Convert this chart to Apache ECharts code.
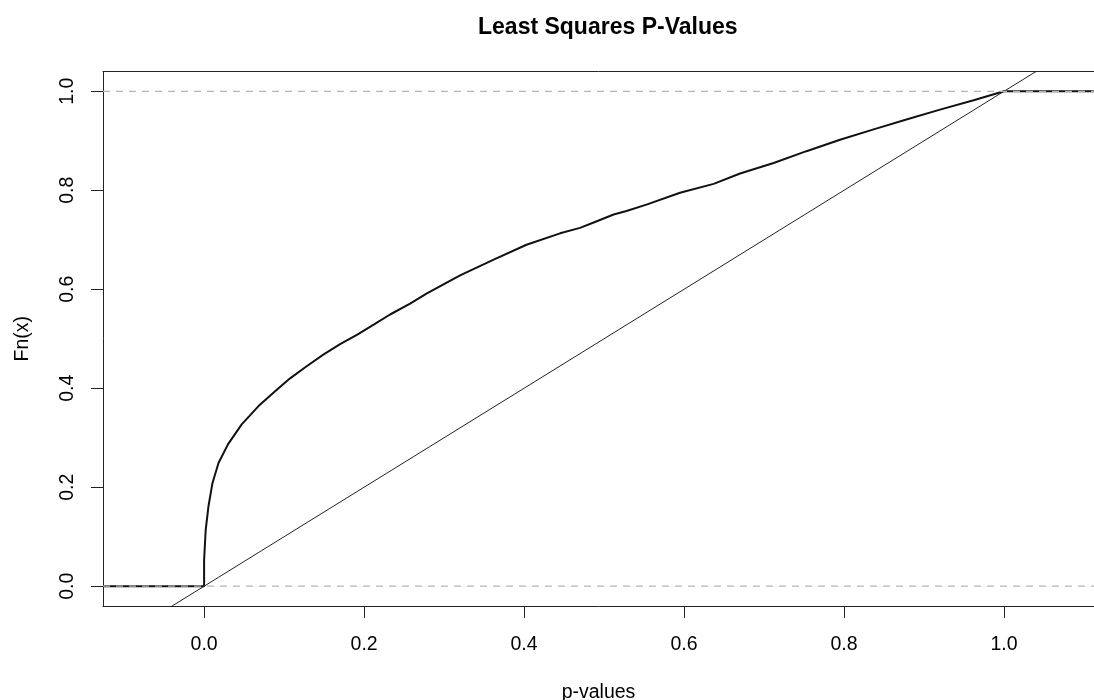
<!DOCTYPE html>
<html>
<head>
<meta charset="utf-8">
<title>Least Squares P-Values</title>
<script src="https://cdn.jsdelivr.net/npm/echarts@6/dist/echarts.min.js"></script>
<style>
  html, body { margin: 0; padding: 0; background: #fff; }
  #chart { width: 1094px; height: 700px; }
</style>
</head>
<body>
<div id="chart"></div>
<script>
// Empirical CDF of the least-squares p-values (knots along the curve)
const pValues = [
  0.000, 0.000, 0.002, 0.0054, 0.0104, 0.018, 0.030, 0.047, 0.068, 0.093,
  0.1075, 0.126, 0.149, 0.170, 0.191, 0.2125, 0.2325, 0.2575, 0.278, 0.320,
  0.362, 0.403, 0.445, 0.470, 0.487, 0.512, 0.528, 0.553, 0.595, 0.637,
  0.670, 0.712, 0.753, 0.795, 0.837, 0.878, 0.920, 0.962, 1.000
];
const fnValues = [
  0.000, 0.053, 0.114, 0.161, 0.208, 0.249, 0.287, 0.327, 0.364, 0.400,
  0.420, 0.442, 0.468, 0.489, 0.508, 0.529, 0.549, 0.571, 0.591, 0.628,
  0.660, 0.690, 0.713, 0.724, 0.735, 0.751, 0.758, 0.771, 0.795, 0.813,
  0.834, 0.855, 0.879, 0.902, 0.923, 0.943, 0.963, 0.982, 1.000
];

// Axis ticks and labels
const xTicks = [0.0, 0.2, 0.4, 0.6, 0.8, 1.0];
const yTicks = [0.0, 0.2, 0.4, 0.6, 0.8, 1.0];

// Horizontal reference levels (dashed) and the uniform reference line y = x
const refLevels = [0, 1];
const refLineIntercept = 0;
const refLineSlope = 1;

// Plot limits
const xLimits = [-0.1264, 1.1125];
const yLimits = [-0.04, 1.04];

const FONT = '"Liberation Sans", Arial, Helvetica, sans-serif';
const INK = '#222';

// ECDF as a line: flat tail left of the first knot, the curve, flat tail right of the last
const ecdfData = [[xLimits[0], 0]]
  .concat(pValues.map((p, i) => [p, fnValues[i]]))
  .concat([[xLimits[1], 1]]);

const diagData = [xLimits[0], xLimits[1] + 0.1].map(x => [x, refLineIntercept + refLineSlope * x]);

const refSeries = refLevels.map(level => ({
  type: 'line',
  data: xLimits.map(x => [x, level]),
  showSymbol: false,
  silent: true,
  z: 5,
  lineStyle: { color: '#b5b5b5', width: 1.2, type: [7, 6] }
}));

const chart = echarts.init(document.getElementById('chart'), null, { renderer: 'canvas' });

chart.setOption({
  animation: false,
  backgroundColor: '#ffffff',
  title: {
    text: 'Least Squares P-Values',
    left: 473,
    top: 11,
    textStyle: { fontFamily: FONT, fontSize: 23, fontWeight: 'bold', color: '#000' }
  },
  grid: {
    left: 103,
    right: 0,
    top: 71.5,
    bottom: 94,
    show: false,
    containLabel: false,
    outerBoundsMode: 'none'
  },
  xAxis: [
    {
      type: 'value',
      position: 'bottom',
      min: xLimits[0],
      max: xLimits[1],
      name: 'p-values',
      nameLocation: 'middle',
      nameGap: 77,
      nameTextStyle: { fontFamily: FONT, fontSize: 19.5, color: '#000' },
      axisLine: { show: true, onZero: false, lineStyle: { color: INK, width: 1 } },
      axisTick: {
        show: true, inside: false, length: 12,
        customValues: xTicks,
        lineStyle: { color: INK, width: 1 }
      },
      axisLabel: {
        customValues: xTicks,
        margin: 29,
        fontFamily: FONT, fontSize: 19.5, color: '#000',
        formatter: v => v.toFixed(1)
      },
      splitLine: { show: false }
    },
    {
      // top edge of the plot frame
      type: 'value',
      position: 'top',
      min: xLimits[0],
      max: xLimits[1],
      axisLine: { show: true, onZero: false, lineStyle: { color: INK, width: 1 } },
      axisTick: { show: false },
      axisLabel: { show: false },
      splitLine: { show: false }
    }
  ],
  yAxis: {
    type: 'value',
    min: yLimits[0],
    max: yLimits[1],
    name: 'Fn(x)',
    nameLocation: 'middle',
    nameGap: 70,
    nameTextStyle: { fontFamily: FONT, fontSize: 19.5, color: '#000' },
    axisLine: { show: true, onZero: false, lineStyle: { color: INK, width: 1 } },
    axisTick: {
      show: true, inside: false, length: 12,
      customValues: yTicks,
      lineStyle: { color: INK, width: 1 }
    },
    axisLabel: {
      customValues: yTicks,
      rotate: 90,
      margin: 25,
      fontFamily: FONT, fontSize: 19.5, color: '#000',
      formatter: v => v.toFixed(1)
    },
    splitLine: { show: false }
  },
  series: [
    {
      name: 'Fn(x)',
      type: 'line',
      data: ecdfData,
      showSymbol: false,
      smooth: false,
      z: 3,
      lineStyle: { color: '#111', width: 2 }
    },
    {
      name: 'y = x',
      type: 'line',
      data: diagData,
      showSymbol: false,
      z: 4,
      lineStyle: { color: INK, width: 1 }
    }
  ].concat(refSeries)
});
</script>
</body>
</html>
